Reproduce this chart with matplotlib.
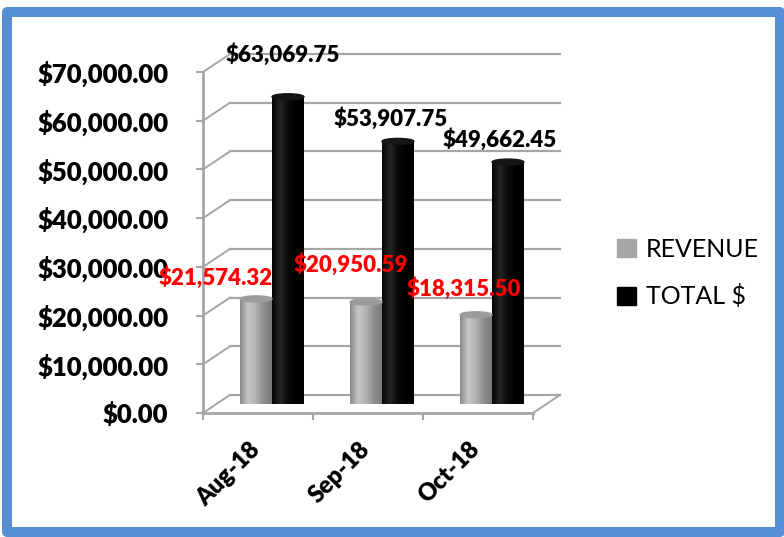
import matplotlib

matplotlib.use("Agg")
import matplotlib.pyplot as plt
import numpy as np
from matplotlib.colors import LinearSegmentedColormap
from matplotlib.patches import Ellipse, Patch, Rectangle
from matplotlib.transforms import ScaledTranslation

# data
MONTHS = ["Aug-18", "Sep-18", "Oct-18"]
REVENUE = [21574.32, 20950.59, 18315.50]
TOTAL = [63069.75, 53907.75, 49662.45]
Y_TICKS = [0, 10000, 20000, 30000, 40000, 50000, 60000, 70000]

# label nudges in pixels (Excel places 3D labels somewhat irregularly)
REV_LABEL_OFFSET = [(-40, 21), (-15, 37), (-12, 26)]
TOTAL_LABEL_OFFSET = [(-5, 42), (-7, 23), (-8, 22)]

DPI = 100
GRID = "#a6a6a6"
BORDER = "#558ed5"
FONT = "Lato"
HEAVY = "heavy"

fig = plt.figure(figsize=(7.84, 5.37), dpi=DPI)
ax = fig.add_axes((203 / 784, 1 - 413 / 537, 330 / 784, 341 / 537))
ax.set_xlim(0, len(MONTHS))
ax.set_ylim(0, Y_TICKS[-1])

# 3D look: back wall and bar plane are shifted up/right in pixels
back = ax.transData + ScaledTranslation(27 / DPI, 18 / DPI, fig.dpi_scale_trans)
mid = ax.transData + ScaledTranslation(14 / DPI, 9 / DPI, fig.dpi_scale_trans)


def side_line(x, v):
    # diagonal from the front plane to the back wall at data point (x, v)
    x0, y0 = ax.transData.transform((x, v))
    x1, y1 = back.transform((x, v))
    fig.add_artist(plt.Line2D([x0 / 784, x1 / 784], [y0 / 537, y1 / 537], color=GRID, lw=1.4))


for v in Y_TICKS:
    ax.plot([0, len(MONTHS)], [v, v], color=GRID, lw=1.6, transform=back, zorder=1, clip_on=False)
    side_line(0, v)
side_line(len(MONTHS), 0)

for s in ["top", "right"]:
    ax.spines[s].set_visible(False)
for s in ["left", "bottom"]:
    ax.spines[s].set_color(GRID)
    ax.spines[s].set_linewidth(2)
ax.set_facecolor("none")

ax.set_yticks(Y_TICKS)
ax.set_yticklabels([f"${v:,.2f}" for v in Y_TICKS], fontfamily=FONT, fontweight=HEAVY, fontsize=18.5)
ax.set_xticks(range(len(MONTHS) + 1))
ax.set_xticklabels([])
ax.tick_params(axis="both", color=GRID, width=1.5, length=5)
ax.tick_params(axis="y", pad=20)

for i, m in enumerate(MONTHS):
    ax.annotate(m, (i + 0.5, 0), xycoords="data", xytext=(6, -25), textcoords="offset pixels",
                rotation=45, ha="right", va="top", fontfamily=FONT, fontweight=HEAVY,
                fontsize=17, annotation_clip=False)

# cylinders
W = 0.29
ELL_H = 6 * Y_TICKS[-1] / 341
rev_cmap = LinearSegmentedColormap.from_list(
    "rev", ["#8a8a8a", "#c6c6c6", "#b2b2b2", "#8e8e8e", "#7a7a7a"])
tot_cmap = LinearSegmentedColormap.from_list(
    "tot", ["#050505", "#262626", "#0a0a0a", "#000000", "#000000"])
grad = np.linspace(0, 1, 64).reshape(1, -1)

xs = np.arange(len(MONTHS)) + 0.5
for vals, off, cmap, top in [(REVENUE, -W / 2, rev_cmap, "#9c9c9c"),
                             (TOTAL, W / 2, tot_cmap, "#151515")]:
    bars = ax.bar(xs + off, vals, width=W, color="none", transform=mid, zorder=3, clip_on=False)
    for b, v in zip(bars, vals):
        xl = b.get_x()
        im = ax.imshow(grad, extent=(xl, xl + W, 0, v), aspect="auto", cmap=cmap,
                       transform=mid, zorder=3, interpolation="bilinear")
        im.set_clip_path(b)
        ax.add_patch(Ellipse((xl + W / 2, v), W, ELL_H, transform=mid, color=top,
                             zorder=4, clip_on=False))
ax.set_xlim(0, len(MONTHS))
ax.set_ylim(0, Y_TICKS[-1])

for i in range(len(MONTHS)):
    ax.annotate(f"${REVENUE[i]:,.2f}", (xs[i] - W / 2, REVENUE[i]), xycoords=mid,
                xytext=REV_LABEL_OFFSET[i], textcoords="offset pixels", ha="center",
                va="center", color="#ff0000", fontfamily=FONT, fontweight=HEAVY,
                fontsize=16, zorder=6, annotation_clip=False)
    ax.annotate(f"${TOTAL[i]:,.2f}", (xs[i] + W / 2, TOTAL[i]), xycoords=mid,
                xytext=TOTAL_LABEL_OFFSET[i], textcoords="offset pixels", ha="center",
                va="center", color="black", fontfamily=FONT, fontweight=HEAVY,
                fontsize=16, zorder=6, annotation_clip=False)

handles = [Patch(color="#a6a6a6", label="REVENUE"), Patch(color="black", label="TOTAL $")]
fig.legend(handles=handles, loc="center left", bbox_to_anchor=(617 / 784, 1 - 273 / 537),
           frameon=False, handlelength=0.75, handleheight=0.75, handletextpad=0.4,
           labelspacing=0.95, borderpad=0, borderaxespad=0, prop={"family": FONT, "size": 18})

fig.add_artist(Rectangle((7 / 784, 5 / 537), 773 / 784, 520.5 / 537, transform=fig.transFigure,
                         fill=False, edgecolor=BORDER, lw=7.2, joinstyle="round"))

fig.savefig("out.png", dpi=DPI)
